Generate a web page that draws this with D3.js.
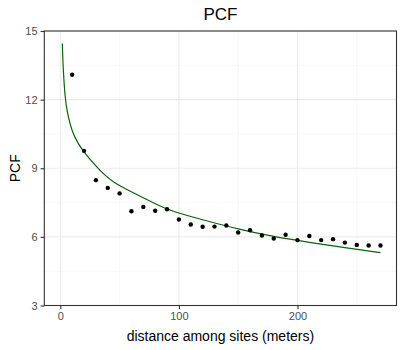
<!DOCTYPE html>
<html>
<head>
<meta charset="utf-8">
<script src="https://cdn.jsdelivr.net/npm/d3@7"></script>
<style>
  body { margin: 0; background: #fff; }
  text { font-family: "Liberation Sans", Arial, sans-serif; }
</style>
</head>
<body>
<svg id="chart" width="404" height="350"></svg>
<script>
// observed PCF values at each distance
const distances = [10,20,30,40,50,60,70,80,90,100,110,120,130,140,150,160,170,180,190,200,210,220,230,240,250,260,270];
const pcfValues = [13.09,9.76,8.48,8.14,7.9,7.12,7.31,7.14,7.21,6.76,6.54,6.44,6.45,6.5,6.19,6.29,6.06,5.93,6.09,5.86,6.04,5.86,5.9,5.75,5.65,5.62,5.62];

// fitted curve
const fitDist = [1.7,2.5,4,6,10,15,20,30,45,67,90,120,150,180,210,240,270];
const fitPcf  = [14.45,13.35,12.2,11.45,10.65,10.1,9.72,9.1,8.4,7.79,7.22,6.75,6.35,6.02,5.76,5.53,5.31];

const xTicks = [0,100,200];
const yTicks = [3,6,9,12,15];

const svg = d3.select("#chart");
const margin = {top:31, right:7.5, bottom:44.5, left:44.3};
const W = +svg.attr("width"), H = +svg.attr("height");

const x = d3.scaleLinear().domain([-13.5,283.5]).range([margin.left, W - margin.right]);
const y = d3.scaleLinear().domain([3,15]).range([H - margin.bottom, margin.top]);

// grid
const g = svg.append("g");
const xMinor = [50,150,250], yMinor = [4.5,7.5,10.5,13.5];
g.selectAll(".xminor").data(xMinor).join("line")
  .attr("x1", d => x(d)).attr("x2", d => x(d))
  .attr("y1", margin.top).attr("y2", H - margin.bottom)
  .attr("stroke", "#f2f2f2").attr("stroke-width", 0.6);
g.selectAll(".yminor").data(yMinor).join("line")
  .attr("x1", margin.left).attr("x2", W - margin.right)
  .attr("y1", d => y(d)).attr("y2", d => y(d))
  .attr("stroke", "#f2f2f2").attr("stroke-width", 0.6);
g.selectAll(".xmajor").data(xTicks).join("line")
  .attr("x1", d => x(d)).attr("x2", d => x(d))
  .attr("y1", margin.top).attr("y2", H - margin.bottom)
  .attr("stroke", "#ebebeb").attr("stroke-width", 1.1);
g.selectAll(".ymajor").data(yTicks).join("line")
  .attr("x1", margin.left).attr("x2", W - margin.right)
  .attr("y1", d => y(d)).attr("y2", d => y(d))
  .attr("stroke", "#ebebeb").attr("stroke-width", 1.1);

// fitted line
const line = d3.line().x((d,i) => x(fitDist[i])).y(d => y(d)).curve(d3.curveNatural);
svg.append("path").datum(fitPcf)
  .attr("d", line).attr("fill", "none")
  .attr("stroke", "#0b640b").attr("stroke-width", 1.2);

// points
svg.selectAll("circle").data(pcfValues).join("circle")
  .attr("cx", (d,i) => x(distances[i])).attr("cy", d => y(d))
  .attr("r", 2.2).attr("fill", "#000");

// panel border
svg.append("rect")
  .attr("x", margin.left).attr("y", margin.top)
  .attr("width", W - margin.right - margin.left)
  .attr("height", H - margin.bottom - margin.top)
  .attr("fill", "none").attr("stroke", "#333").attr("stroke-width", 1.1);

// axes
const xAxis = svg.append("g").attr("transform", `translate(0,${H - margin.bottom})`)
  .call(d3.axisBottom(x).tickValues(xTicks).tickSize(3.7).tickPadding(3));
const yAxis = svg.append("g").attr("transform", `translate(${margin.left},0)`)
  .call(d3.axisLeft(y).tickValues(yTicks).tickSize(3.7).tickPadding(3));
[xAxis, yAxis].forEach(a => {
  a.select(".domain").remove();
  a.selectAll("line").attr("stroke", "#333").attr("stroke-width", 1.1);
  a.selectAll("text").attr("fill", "#4d4d4d").style("font-size", "11px")
    .style("font-family", "Liberation Sans, Arial, sans-serif");
});

// titles
svg.append("text").attr("x", (margin.left + W - margin.right)/2).attr("y", 20)
  .attr("text-anchor", "middle").style("font-size", "17px").text("PCF");
svg.append("text").attr("x", (margin.left + W - margin.right)/2).attr("y", 341)
  .attr("text-anchor", "middle").style("font-size", "14px").text("distance among sites (meters)");
svg.append("text")
  .attr("transform", `translate(20,${(margin.top + H - margin.bottom)/2}) rotate(-90)`)
  .attr("text-anchor", "middle").style("font-size", "14px").text("PCF");
</script>
</body>
</html>
